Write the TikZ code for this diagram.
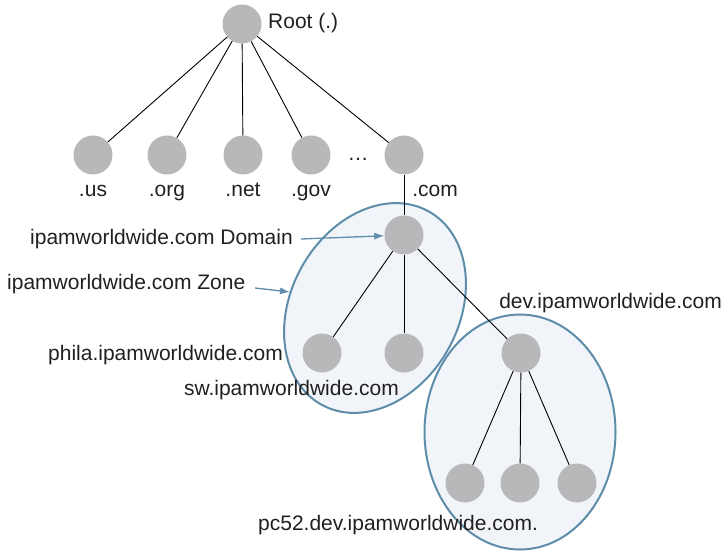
\documentclass[tikz,border=0pt]{standalone}
\usepackage{fontspec}
\setmainfont{Liberation Sans}
\usetikzlibrary{arrows.meta}
\definecolor{zoneblue}{HTML}{5E8DAA}
\definecolor{zonefill}{HTML}{F1F5FA}
\definecolor{nodegray}{HTML}{B8B8BB}
\definecolor{inkdark}{HTML}{231F20}
\tikzset{
  dnsnode/.style={circle, fill=nodegray, minimum size=39bp, inner sep=0pt},
  treeline/.style={draw=black, line width=0.9bp},
  lbl/.style={font=\fontsize{21bp}{25bp}\selectfont, inner sep=0pt, text=inkdark},
  zone/.style={draw=zoneblue, fill=zonefill, line width=2bp},
  pointer/.style={draw=zoneblue, line width=1.3bp, -{Latex[length=10bp,width=7bp]}}
}
\begin{document}
\begin{tikzpicture}[x=1bp, y=-1bp]
\useasboundingbox (0,0) rectangle (728,551);

% zones
\draw[zone, shift={(375,308)}, rotate=-29] (0,0) ellipse [x radius=84, y radius=110.5];
\draw[zone] (520,432) ellipse [x radius=95.5, y radius=117.5];

% name-space nodes
\node[dnsnode] (root) at (242,24) {};
\node[dnsnode] (us)   at (93,155) {};
\node[dnsnode] (org)  at (167,155) {};
\node[dnsnode] (net)  at (243,155) {};
\node[dnsnode] (gov)  at (311,155) {};
\node[dnsnode] (com)  at (404,155) {};
\node[dnsnode] (ipam) at (404,235) {};
\node[dnsnode] (phila) at (322,353) {};
\node[dnsnode] (sw)   at (404,353) {};
\node[dnsnode] (dev)  at (521,353) {};
\node[dnsnode] (pcA)  at (465,483) {};
\node[dnsnode] (pcB)  at (520,483) {};
\node[dnsnode] (pcC)  at (577,483) {};

% tree edges
\foreach \t in {us,org,net,gov,com} \draw[treeline] (root) -- (\t);
\draw[treeline] (com) -- (ipam);
\foreach \t in {phila,sw,dev} \draw[treeline] (ipam) -- (\t);
\foreach \t in {pcA,pcB,pcC} \draw[treeline] (dev) -- (\t);

% labels
\node[lbl, anchor=base west] (rootlbl) at (268,28.5) {Root (.)};
\node[lbl, anchor=base] (uslbl)  at (93,197) {.us};
\node[lbl, anchor=base] (orglbl) at (167,197) {.org};
\node[lbl, anchor=base] (netlbl) at (243,197) {.net};
\node[lbl, anchor=base] (govlbl) at (311,197) {.gov};
\node[lbl, anchor=base] (dots)   at (358,161) {\dots};
\node[lbl, anchor=base] (comlbl) at (435,197) {.com};
\node[lbl, anchor=base west] (domlbl)  at (30,245) {ipamworldwide.com Domain};
\node[lbl, anchor=base west] (zonelbl) at (7,290) {ipamworldwide.com Zone};
\node[lbl, anchor=base east] (devlbl)  at (722,308) {dev.ipamworldwide.com};
\node[lbl, anchor=base east] (philalbl) at (283,360) {phila.ipamworldwide.com};
\node[lbl, anchor=base east] (swlbl)   at (399,395) {sw.ipamworldwide.com};
\node[lbl, anchor=base west] (pclbl)   at (258,530) {pc52.dev.ipamworldwide.com.};

% pointers
\coordinate (domtail) at (301,239);
\coordinate (zonetail) at (255,288);
\coordinate (zoneedge) at (290,292);
\draw[pointer] (domtail) -- (ipam);
\draw[pointer] (zonetail) -- (zoneedge);
\end{tikzpicture}
\end{document}
